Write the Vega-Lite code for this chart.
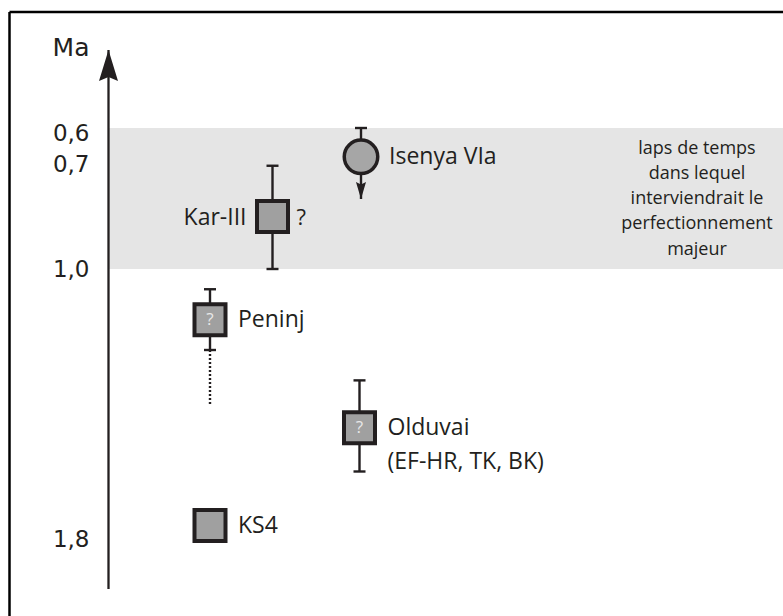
{
  "$schema": "https://vega.github.io/schema/vega-lite/v6.json",
  "width": 783,
  "height": 616,
  "padding": 0,
  "autosize": {"type": "none"},
  "background": "white",
  "config": {"view": {"stroke": null}, "text": {"font": "Open Sans", "color": "#231f20"}},
  "datasets": {
    "frame": [{"x": 9.5, "x2": 783, "top": 0.2, "bottom": 2.0}],
    "band": [{"from": 0.6, "to": 1.0, "x": 109, "x2": 783}],
    "axisline": [{"x": 108.5, "top": 0.35, "bottom": 1.9}],
    "note": [{"x": 697, "age": 0.8, "text": "laps de temps\ndans lequel\ninterviendrait le\nperfectionnement\nmajeur"}],
    "sites": [
      {"name": "Isenya VIa", "label": "Isenya VIa", "kind": "circle", "x": 361, "age": 0.68, "min": 0.6, "max": null, "arrow": 0.8, "dotted": null, "doubt": null},
      {"name": "Kar-III", "label": "Kar-III", "kind": "square", "x": 272.5, "age": 0.85, "min": 0.705, "max": 1.0, "arrow": null, "dotted": null, "doubt": "right"},
      {"name": "Peninj", "label": "Peninj", "kind": "square", "x": 210, "age": 1.15, "min": 1.06, "max": 1.24, "arrow": null, "dotted": 1.4, "doubt": "inside"},
      {"name": "Olduvai", "label": "Olduvai\n(EF-HR, TK, BK)", "kind": "square", "x": 359.5, "age": 1.47, "min": 1.33, "max": 1.6, "arrow": null, "dotted": null, "doubt": "inside"},
      {"name": "KS4", "label": "KS4", "kind": "square", "x": 210, "age": 1.76, "min": null, "max": null, "arrow": null, "dotted": null, "doubt": null}
    ]
  },
  "layer": [
    {
      "data": {"name": "band"},
      "mark": {"type": "rect", "color": "#e5e5e5"},
      "encoding": {
        "x": {"field": "x", "type": "quantitative", "scale": {"domain": [0, 783], "range": [0, 783], "nice": false, "zero": false}, "axis": null},
        "x2": {"field": "x2"},
        "y": {"field": "from", "type": "quantitative",
          "scale": {"domain": [0.2, 0.35, 0.6, 0.7, 1.0, 1.8, 1.9, 2.0], "range": [12, 50, 128, 164, 269, 539, 589, 616], "nice": false, "zero": false},
          "axis": {
            "orient": "left", "offset": -108.5, "values": [0.6, 0.7, 1.0, 1.8],
            "domain": false, "ticks": false, "grid": false,
            "labelPadding": 19.5, "labelFont": "DejaVu Sans", "labelFontSize": 23, "labelColor": "#231f20",
            "labelExpr": "replace(format(datum.value, '.1f'), '.', ',')",
            "labelOffset": {"condition": {"test": "datum.value == 0.6", "value": 5}, "value": 0},
            "labelOverlap": false, "labelFlush": false,
            "title": "Ma", "titleAngle": 0, "titleFont": "DejaVu Sans", "titleFontSize": 25, "titleFontWeight": "normal",
            "titleColor": "#231f20", "titleAlign": "right", "titleBaseline": "alphabetic", "titleX": -19.5, "titleY": 55
          }
        },
        "y2": {"field": "to"}
      }
    },
    {
      "data": {"name": "frame"},
      "mark": {"type": "rule", "color": "black", "strokeWidth": 2.5},
      "encoding": {
        "x": {"field": "x", "type": "quantitative", "scale": {"domain": [0, 783], "range": [0, 783], "nice": false, "zero": false}, "axis": null},
        "y": {"field": "top", "type": "quantitative", "scale": {"domain": [0.2, 0.35, 0.6, 0.7, 1.0, 1.8, 1.9, 2.0], "range": [12, 50, 128, 164, 269, 539, 589, 616], "nice": false, "zero": false}},
        "y2": {"field": "bottom"}
      }
    },
    {
      "data": {"name": "frame"},
      "mark": {"type": "rule", "color": "black", "strokeWidth": 2.5},
      "encoding": {
        "x": {"field": "x", "type": "quantitative", "scale": {"domain": [0, 783], "range": [0, 783], "nice": false, "zero": false}, "axis": null},
        "x2": {"field": "x2"},
        "y": {"field": "top", "type": "quantitative", "scale": {"domain": [0.2, 0.35, 0.6, 0.7, 1.0, 1.8, 1.9, 2.0], "range": [12, 50, 128, 164, 269, 539, 589, 616], "nice": false, "zero": false}}
      }
    },
    {
      "data": {"name": "axisline"},
      "mark": {"type": "rule", "color": "#231f20", "strokeWidth": 2.3},
      "encoding": {
        "x": {"field": "x", "type": "quantitative", "scale": {"domain": [0, 783], "range": [0, 783], "nice": false, "zero": false}, "axis": null},
        "y": {"field": "top", "type": "quantitative", "scale": {"domain": [0.2, 0.35, 0.6, 0.7, 1.0, 1.8, 1.9, 2.0], "range": [12, 50, 128, 164, 269, 539, 589, 616], "nice": false, "zero": false}},
        "y2": {"field": "bottom"}
      }
    },
    {
      "data": {"name": "axisline"},
      "mark": {"type": "point", "filled": true, "opacity": 1, "fill": "#231f20", "strokeWidth": 0, "shape": "M0,0L0.613,2L0,1.74L-0.613,2Z", "size": 961},
      "encoding": {
        "x": {"field": "x", "type": "quantitative", "scale": {"domain": [0, 783], "range": [0, 783], "nice": false, "zero": false}, "axis": null},
        "y": {"field": "top", "type": "quantitative", "scale": {"domain": [0.2, 0.35, 0.6, 0.7, 1.0, 1.8, 1.9, 2.0], "range": [12, 50, 128, 164, 269, 539, 589, 616], "nice": false, "zero": false}}
      }
    },
    {
      "data": {"name": "sites"},
      "transform": [{"filter": "datum.min != null && datum.max != null"}],
      "mark": {"type": "rule", "color": "#231f20", "strokeWidth": 2.4},
      "encoding": {
        "x": {"field": "x", "type": "quantitative", "scale": {"domain": [0, 783], "range": [0, 783], "nice": false, "zero": false}, "axis": null},
        "y": {"field": "min", "type": "quantitative", "scale": {"domain": [0.2, 0.35, 0.6, 0.7, 1.0, 1.8, 1.9, 2.0], "range": [12, 50, 128, 164, 269, 539, 589, 616], "nice": false, "zero": false}},
        "y2": {"field": "max"}
      }
    },
    {
      "data": {"name": "sites"},
      "transform": [{"filter": "datum.arrow != null"}],
      "mark": {"type": "rule", "color": "#231f20", "strokeWidth": 2.4},
      "encoding": {
        "x": {"field": "x", "type": "quantitative", "scale": {"domain": [0, 783], "range": [0, 783], "nice": false, "zero": false}, "axis": null},
        "y": {"field": "min", "type": "quantitative", "scale": {"domain": [0.2, 0.35, 0.6, 0.7, 1.0, 1.8, 1.9, 2.0], "range": [12, 50, 128, 164, 269, 539, 589, 616], "nice": false, "zero": false}},
        "y2": {"field": "arrow"}
      }
    },
    {
      "data": {"name": "sites"},
      "transform": [{"filter": "datum.dotted != null"}],
      "mark": {"type": "rule", "color": "#231f20", "strokeWidth": 2.4, "strokeDash": [2, 2]},
      "encoding": {
        "x": {"field": "x", "type": "quantitative", "scale": {"domain": [0, 783], "range": [0, 783], "nice": false, "zero": false}, "axis": null},
        "y": {"field": "max", "type": "quantitative", "scale": {"domain": [0.2, 0.35, 0.6, 0.7, 1.0, 1.8, 1.9, 2.0], "range": [12, 50, 128, 164, 269, 539, 589, 616], "nice": false, "zero": false}},
        "y2": {"field": "dotted"}
      }
    },
    {
      "data": {"name": "sites"},
      "transform": [{"filter": "datum.min != null"}],
      "mark": {"type": "tick", "orient": "horizontal", "color": "#231f20", "size": 12, "thickness": 2.4, "opacity": 1},
      "encoding": {
        "x": {"field": "x", "type": "quantitative", "scale": {"domain": [0, 783], "range": [0, 783], "nice": false, "zero": false}, "axis": null},
        "y": {"field": "min", "type": "quantitative", "scale": {"domain": [0.2, 0.35, 0.6, 0.7, 1.0, 1.8, 1.9, 2.0], "range": [12, 50, 128, 164, 269, 539, 589, 616], "nice": false, "zero": false}}
      }
    },
    {
      "data": {"name": "sites"},
      "transform": [{"filter": "datum.max != null"}],
      "mark": {"type": "tick", "orient": "horizontal", "color": "#231f20", "size": 12, "thickness": 2.4, "opacity": 1},
      "encoding": {
        "x": {"field": "x", "type": "quantitative", "scale": {"domain": [0, 783], "range": [0, 783], "nice": false, "zero": false}, "axis": null},
        "y": {"field": "max", "type": "quantitative", "scale": {"domain": [0.2, 0.35, 0.6, 0.7, 1.0, 1.8, 1.9, 2.0], "range": [12, 50, 128, 164, 269, 539, 589, 616], "nice": false, "zero": false}}
      }
    },
    {
      "data": {"name": "sites"},
      "transform": [{"filter": "datum.arrow != null"}],
      "mark": {"type": "point", "filled": true, "opacity": 1, "fill": "#231f20", "strokeWidth": 0, "shape": "M0,0L0.59,-2L0,-1.7L-0.59,-2Z", "size": 289},
      "encoding": {
        "x": {"field": "x", "type": "quantitative", "scale": {"domain": [0, 783], "range": [0, 783], "nice": false, "zero": false}, "axis": null},
        "y": {"field": "arrow", "type": "quantitative", "scale": {"domain": [0.2, 0.35, 0.6, 0.7, 1.0, 1.8, 1.9, 2.0], "range": [12, 50, 128, 164, 269, 539, 589, 616], "nice": false, "zero": false}}
      }
    },
    {
      "data": {"name": "sites"},
      "transform": [{"filter": "datum.kind == 'square'"}],
      "mark": {"type": "point", "shape": "square", "filled": true, "opacity": 1, "fill": "#a0a0a0", "stroke": "#231f20", "strokeWidth": 4, "size": 961},
      "encoding": {
        "x": {"field": "x", "type": "quantitative", "scale": {"domain": [0, 783], "range": [0, 783], "nice": false, "zero": false}, "axis": null},
        "y": {"field": "age", "type": "quantitative", "scale": {"domain": [0.2, 0.35, 0.6, 0.7, 1.0, 1.8, 1.9, 2.0], "range": [12, 50, 128, 164, 269, 539, 589, 616], "nice": false, "zero": false}}
      }
    },
    {
      "data": {"name": "sites"},
      "transform": [{"filter": "datum.kind == 'circle'"}],
      "mark": {"type": "point", "shape": "circle", "filled": true, "opacity": 1, "fill": "#a6a6a6", "stroke": "#231f20", "strokeWidth": 3.5, "size": 1122},
      "encoding": {
        "x": {"field": "x", "type": "quantitative", "scale": {"domain": [0, 783], "range": [0, 783], "nice": false, "zero": false}, "axis": null},
        "y": {"field": "age", "type": "quantitative", "scale": {"domain": [0.2, 0.35, 0.6, 0.7, 1.0, 1.8, 1.9, 2.0], "range": [12, 50, 128, 164, 269, 539, 589, 616], "nice": false, "zero": false}}
      }
    },
    {
      "data": {"name": "sites"},
      "transform": [{"filter": "datum.doubt == 'inside'"}],
      "mark": {"type": "text", "align": "center", "baseline": "middle", "fontSize": 17, "color": "#e8e8e8"},
      "encoding": {
        "x": {"field": "x", "type": "quantitative", "scale": {"domain": [0, 783], "range": [0, 783], "nice": false, "zero": false}, "axis": null},
        "y": {"field": "age", "type": "quantitative", "scale": {"domain": [0.2, 0.35, 0.6, 0.7, 1.0, 1.8, 1.9, 2.0], "range": [12, 50, 128, 164, 269, 539, 589, 616], "nice": false, "zero": false}},
        "text": {"value": "?"}
      }
    },
    {
      "data": {"name": "sites"},
      "transform": [{"filter": "datum.doubt == 'right'"}],
      "mark": {"type": "text", "align": "left", "baseline": "alphabetic", "fontSize": 22, "dx": 24, "dy": 8},
      "encoding": {
        "x": {"field": "x", "type": "quantitative", "scale": {"domain": [0, 783], "range": [0, 783], "nice": false, "zero": false}, "axis": null},
        "y": {"field": "age", "type": "quantitative", "scale": {"domain": [0.2, 0.35, 0.6, 0.7, 1.0, 1.8, 1.9, 2.0], "range": [12, 50, 128, 164, 269, 539, 589, 616], "nice": false, "zero": false}},
        "text": {"value": "?"}
      }
    },
    {
      "data": {"name": "sites"},
      "transform": [{"filter": "datum.name != 'Kar-III'"}],
      "mark": {"type": "text", "align": "left", "baseline": "alphabetic", "fontSize": 23, "dx": 28, "dy": 7, "lineBreak": "\n", "lineHeight": 34},
      "encoding": {
        "x": {"field": "x", "type": "quantitative", "scale": {"domain": [0, 783], "range": [0, 783], "nice": false, "zero": false}, "axis": null},
        "y": {"field": "age", "type": "quantitative", "scale": {"domain": [0.2, 0.35, 0.6, 0.7, 1.0, 1.8, 1.9, 2.0], "range": [12, 50, 128, 164, 269, 539, 589, 616], "nice": false, "zero": false}},
        "text": {"field": "label"}
      }
    },
    {
      "data": {"name": "sites"},
      "transform": [{"filter": "datum.name == 'Kar-III'"}],
      "mark": {"type": "text", "align": "right", "baseline": "alphabetic", "fontSize": 23, "dx": -26, "dy": 8},
      "encoding": {
        "x": {"field": "x", "type": "quantitative", "scale": {"domain": [0, 783], "range": [0, 783], "nice": false, "zero": false}, "axis": null},
        "y": {"field": "age", "type": "quantitative", "scale": {"domain": [0.2, 0.35, 0.6, 0.7, 1.0, 1.8, 1.9, 2.0], "range": [12, 50, 128, 164, 269, 539, 589, 616], "nice": false, "zero": false}},
        "text": {"field": "label"}
      }
    },
    {
      "data": {"name": "note"},
      "mark": {"type": "text", "align": "center", "baseline": "middle", "fontSize": 18, "lineBreak": "\n", "lineHeight": 25.3, "dy": -50.5},
      "encoding": {
        "x": {"field": "x", "type": "quantitative", "scale": {"domain": [0, 783], "range": [0, 783], "nice": false, "zero": false}, "axis": null},
        "y": {"field": "age", "type": "quantitative", "scale": {"domain": [0.2, 0.35, 0.6, 0.7, 1.0, 1.8, 1.9, 2.0], "range": [12, 50, 128, 164, 269, 539, 589, 616], "nice": false, "zero": false}},
        "text": {"field": "text"}
      }
    }
  ]
}
